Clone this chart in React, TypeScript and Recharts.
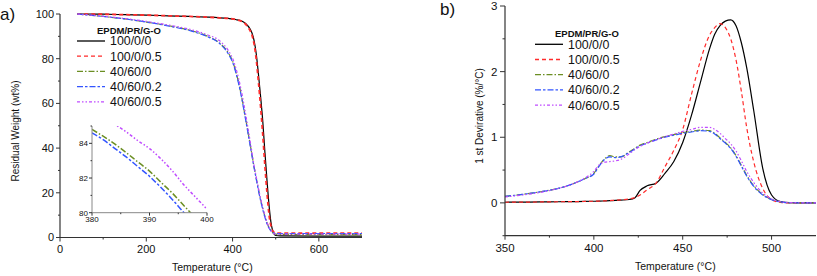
import React from 'react';
import { LineChart, Line, XAxis, YAxis } from 'recharts';

const FONT = '"Liberation Sans", Arial, Helvetica, sans-serif';
const AXIS_COLOR = '#333';

// series shared by both panels
const SERIES_NAMES = ['100/0/0', '100/0/0.5', '40/60/0', '40/60/0.2', '40/60/0.5'];
const SERIES_COLORS = ['#000000', '#ff2b2b', '#6b8e23', '#3355ff', '#c04cff'];
const SERIES_DASH = ['', '4 3', '6 2 1.5 2', '6 2 2.5 2', '3 2 1.5 2 1.5 2'];
const SERIES_KEYS = ['s0', 's1', 's2', 's3', 's4'];

// a) TGA, residual weight (wt%)
const TGA_TEMP = [40, 100, 150, 200, 250, 300, 340, 370, 390, 400, 410, 420, 430, 440, 445, 450, 455, 460, 465, 470, 475, 480, 485, 490, 495, 500, 510, 600, 700];
const TGA_100_0_0 = [100, 99.9, 99.7, 99.5, 99.2, 98.9, 98.6, 98.3, 98.0, 97.8, 97.4, 97.0, 95.8, 93.5, 91.5, 88, 82, 73, 63, 52, 38, 25, 13.5, 5.5, 2, 0.9, 0.7, 0.6, 0.6];
const TGA_100_0_05 = [100, 99.9, 99.7, 99.5, 99.2, 98.9, 98.6, 98.3, 98.0, 97.8, 97.4, 96.8, 95.5, 92.8, 90.5, 86.5, 79.5, 69.5, 58.5, 46, 32, 19.5, 9.5, 4.5, 2.5, 2.0, 2.0, 1.9, 1.9];
const TGA_40_60_0 = [100, 98.9, 97.8, 96.4, 94.8, 92.8, 90.2, 87.0, 82.6, 78.9, 72.5, 64, 53.5, 42.5, 37, 31.5, 26.5, 21.5, 17, 13, 9.5, 6.5, 4.3, 2.8, 1.8, 1.5, 1.4, 1.3, 1.3];
const TGA_40_60_02 = [100, 98.9, 97.8, 96.4, 94.7, 92.6, 90.0, 86.8, 82.2, 78.4, 72.0, 63.5, 53, 42, 36.5, 31, 26, 21, 16.5, 12.5, 9, 6, 4, 2.7, 2.0, 1.8, 1.8, 1.8, 1.8];
const TGA_40_60_05 = [100, 99.0, 98.0, 96.7, 95.1, 93.2, 90.8, 88.0, 83.7, 80.2, 74.2, 66, 55.5, 44, 38, 32, 27, 22, 17.5, 13.5, 9.8, 6.7, 4.4, 2.8, 1.8, 1.5, 1.5, 1.5, 1.5];
const TGA_X_TICKS = [0, 100, 200, 300, 400, 500, 600];
const TGA_X_LABELS = [0, 200, 400, 600];
const TGA_Y_TICKS = [0, 10, 20, 30, 40, 50, 60, 70, 80, 90, 100];
const TGA_Y_LABELS = [0, 20, 40, 60, 80, 100];

// inset of a), 380-400 °C
const INSET_TEMP = [380, 382, 384, 386, 388, 390, 392, 394, 396, 398, 400];
const INSET_40_60_0 = [84.8, 84.4, 83.95, 83.45, 82.92, 82.4, 81.75, 81.12, 80.4, 79.7, 79.0];
const INSET_40_60_02 = [84.6, 84.2, 83.7, 83.2, 82.65, 82.1, 81.45, 80.75, 80.0, 79.3, 78.5];
const INSET_40_60_05 = [86.2, 85.6, 85.1, 84.65, 84.15, 83.7, 83.1, 82.4, 81.6, 80.9, 80.2];
const INSET_X_TICKS = [380, 385, 390, 395, 400];
const INSET_X_LABELS = [380, 390, 400];
const INSET_Y_TICKS = [80, 81, 82, 83, 84, 85];
const INSET_Y_LABELS = [80, 82, 84];

// b) DTG, 1st derivative (%/°C)
const DTG_TEMP = [350, 360, 370, 380, 390, 395, 400, 403, 406, 409, 412, 415, 420, 423, 426, 430, 435, 440, 445, 450, 455, 460, 465, 468, 471, 474, 477, 480, 483, 486, 490, 495, 500, 505, 510, 525];
const DTG_100_0_0 = [0.010, 0.012, 0.014, 0.017, 0.020, 0.022, 0.025, 0.027, 0.030, 0.033, 0.037, 0.042, 0.052, 0.075, 0.19, 0.26, 0.30, 0.45, 0.63, 0.92, 1.34, 1.84, 2.34, 2.57, 2.70, 2.77, 2.79, 2.70, 2.44, 2.06, 1.40, 0.53, 0.12, 0.02, 0.005, 0];
const DTG_100_0_05 = [0.010, 0.012, 0.014, 0.017, 0.020, 0.022, 0.025, 0.028, 0.031, 0.035, 0.040, 0.046, 0.06, 0.08, 0.12, 0.2, 0.30, 0.55, 0.80, 1.12, 1.66, 2.17, 2.55, 2.67, 2.73, 2.67, 2.50, 2.18, 1.70, 1.15, 0.62, 0.22, 0.05, 0.008, 0, 0];
const DTG_40_60_0 = [0.10, 0.13, 0.17, 0.22, 0.31, 0.37, 0.45, 0.57, 0.67, 0.72, 0.70, 0.70, 0.78, 0.83, 0.88, 0.92, 0.97, 1.01, 1.04, 1.07, 1.09, 1.11, 1.10, 1.06, 0.99, 0.92, 0.84, 0.72, 0.57, 0.42, 0.26, 0.13, 0.05, 0.015, 0.003, 0];
const DTG_40_60_02 = [0.10, 0.13, 0.17, 0.22, 0.31, 0.37, 0.44, 0.56, 0.66, 0.70, 0.69, 0.70, 0.77, 0.82, 0.87, 0.91, 0.96, 1.00, 1.03, 1.06, 1.08, 1.10, 1.09, 1.05, 0.98, 0.91, 0.83, 0.71, 0.56, 0.41, 0.25, 0.12, 0.05, 0.015, 0.003, 0];
const DTG_40_60_05 = [0.09, 0.12, 0.16, 0.22, 0.31, 0.38, 0.48, 0.58, 0.62, 0.63, 0.64, 0.66, 0.75, 0.81, 0.86, 0.91, 0.96, 1.01, 1.05, 1.09, 1.12, 1.15, 1.15, 1.12, 1.06, 0.98, 0.90, 0.79, 0.64, 0.48, 0.31, 0.15, 0.06, 0.02, 0.004, 0];
const DTG_X_TICKS = [350, 375, 400, 425, 450, 475, 500];
const DTG_X_LABELS = [350, 400, 450, 500];
const DTG_Y_TICKS = [-0.5, 0, 0.5, 1, 1.5, 2, 2.5, 3];
const DTG_Y_LABELS = [0, 1, 2, 3];

function toRows(temps: number[], cols: number[][], keys: string[]) {
  return temps.map((t, i) => {
    const row: Record<string, number> = { t };
    cols.forEach((c, j) => (row[keys[j]] = c[i]));
    return row;
  });
}

const tgaRows = toRows(TGA_TEMP, [TGA_100_0_0, TGA_100_0_05, TGA_40_60_0, TGA_40_60_02, TGA_40_60_05], SERIES_KEYS);
const insetRows = toRows(INSET_TEMP, [INSET_40_60_0, INSET_40_60_02, INSET_40_60_05], ['s2', 's3', 's4']);
const dtgRows = toRows(DTG_TEMP, [DTG_100_0_0, DTG_100_0_05, DTG_40_60_0, DTG_40_60_02, DTG_40_60_05], SERIES_KEYS);

function xTick(labels: number[], fontSize: number, len: number, gap: number) {
  return (props: any) => {
    const { x, y, payload } = props;
    const major = labels.includes(payload.value);
    return (
      <g>
        <line x1={x} x2={x} y1={y} y2={y + (major ? len : len / 2)} stroke={AXIS_COLOR} strokeWidth={1} />
        {major && (
          <text x={x} y={y + gap} textAnchor="middle" fontSize={fontSize} fontFamily={FONT} fill="#111">
            {payload.value}
          </text>
        )}
      </g>
    );
  };
}

function yTick(labels: number[], fontSize: number, len: number, gap: number) {
  return (props: any) => {
    const { x, y, payload } = props;
    const major = labels.includes(payload.value);
    return (
      <g>
        <line x1={x} x2={x - (major ? len : len / 2)} y1={y} y2={y} stroke={AXIS_COLOR} strokeWidth={1} />
        {major && (
          <text x={x - gap} y={y} dy="0.35em" textAnchor="end" fontSize={fontSize} fontFamily={FONT} fill="#111">
            {payload.value}
          </text>
        )}
      </g>
    );
  };
}

const axisLine = { stroke: AXIS_COLOR, strokeWidth: 1.2 };

function FrameAxes({ xDomain, yDomain }: { xDomain: number[]; yDomain: number[] }) {
  return null;
}

function Legend({ x, y, lineX0, lineX1, textX }: { x: number; y: number; lineX0: number; lineX1: number; textX: number }) {
  return (
    <g fontFamily={FONT}>
      <text x={x} y={y} fontSize={9.5} fontWeight="bold" fill="#111">
        EPDM/PR/G-O
      </text>
      {SERIES_NAMES.map((name, i) => {
        const yy = y + 7.5 + i * 15.2;
        return (
          <g key={name}>
            <line x1={lineX0} x2={lineX1} y1={yy} y2={yy} stroke={SERIES_COLORS[i]} strokeWidth={1.3} strokeDasharray={SERIES_DASH[i]} />
            <text x={textX} y={yy} dy="0.36em" fontSize={12.4} fill="#111">
              {name}
            </text>
          </g>
        );
      })}
    </g>
  );
}

export default function App() {
  return (
    <div style={{ position: 'absolute', left: 0, top: 0, width: 817, height: 276, background: '#fff', overflow: 'hidden' }}>
      {/* a) TGA */}
      <div style={{ position: 'absolute', left: 0, top: 0 }}>
        <LineChart width={400} height={276} data={tgaRows} margin={{ top: 14, right: 38, bottom: 0, left: 0 }}>
          <XAxis dataKey="t" type="number" domain={[0, 700]} ticks={TGA_X_TICKS} interval={0} height={38.5} tickSize={0} tickMargin={0} tickLine={false} axisLine={axisLine} tick={xTick(TGA_X_LABELS, 11, 4, 15.5)} />
          <YAxis type="number" domain={[0, 100]} ticks={TGA_Y_TICKS} interval={0} width={60} tickSize={0} tickMargin={0} tickLine={false} axisLine={axisLine} tick={yTick(TGA_Y_LABELS, 11, 4, 6)} />
          <XAxis xAxisId="top" orientation="top" type="number" domain={[0, 700]} height={0} tick={false} tickLine={false} axisLine={axisLine} />
          <YAxis yAxisId="right" orientation="right" type="number" domain={[0, 100]} width={0} tick={false} tickLine={false} axisLine={axisLine} />
          {SERIES_KEYS.map((k, i) => (
            <Line key={k} dataKey={k} type="monotone" stroke={SERIES_COLORS[i]} strokeWidth={i === 1 ? 1.8 : 1.2} strokeDasharray={SERIES_DASH[i]} dot={false} activeDot={false} isAnimationActive={false} />
          ))}
        </LineChart>
      </div>

      {/* inset */}
      <div style={{ position: 'absolute', left: 70, top: 120 }}>
        <LineChart width={145} height={110} data={insetRows} margin={{ top: 6, right: 8, bottom: 0, left: 0 }}>
          <XAxis dataKey="t" type="number" domain={[380, 400]} allowDataOverflow ticks={INSET_X_TICKS} interval={0} height={17.3} tickSize={0} tickMargin={0} tickLine={false} axisLine={{ stroke: '#888', strokeWidth: 1 }} tick={xTick(INSET_X_LABELS, 8, 3, 9.5)} />
          <YAxis type="number" domain={[80, 85]} allowDataOverflow ticks={INSET_Y_TICKS} interval={0} width={22} tickSize={0} tickMargin={0} tickLine={false} axisLine={{ stroke: '#888', strokeWidth: 1 }} tick={yTick(INSET_Y_LABELS, 8, 3, 4)} />
          <XAxis xAxisId="top" orientation="top" type="number" domain={[380, 400]} height={0} tick={false} tickLine={false} axisLine={{ stroke: '#888', strokeWidth: 1 }} />
          <YAxis yAxisId="right" orientation="right" type="number" domain={[80, 85]} width={0} tick={false} tickLine={false} axisLine={{ stroke: '#888', strokeWidth: 1 }} />
          {['s2', 's3', 's4'].map((k, j) => (
            <Line key={k} dataKey={k} type="monotone" stroke={SERIES_COLORS[j + 2]} strokeWidth={1.5} strokeDasharray={SERIES_DASH[j + 2]} dot={false} activeDot={false} isAnimationActive={false} />
          ))}
        </LineChart>
      </div>

      {/* b) DTG */}
      <div style={{ position: 'absolute', left: 410, top: 0 }}>
        <LineChart width={407} height={276} data={dtgRows} margin={{ top: 6, right: 1, bottom: 0, left: 0 }}>
          <XAxis dataKey="t" type="number" domain={[350, 525]} ticks={DTG_X_TICKS} interval={0} height={40.3} tickSize={0} tickMargin={0} tickLine={false} axisLine={axisLine} tick={xTick(DTG_X_LABELS, 11.5, 4, 16)} />
          <YAxis type="number" domain={[-0.5, 3]} ticks={DTG_Y_TICKS} interval={0} width={95} tickSize={0} tickMargin={0} tickLine={false} axisLine={axisLine} tick={yTick(DTG_Y_LABELS, 11.5, 5, 7.5)} />
          <XAxis xAxisId="top" orientation="top" type="number" domain={[350, 525]} height={0} tick={false} tickLine={false} axisLine={axisLine} />
          <YAxis yAxisId="right" orientation="right" type="number" domain={[-0.5, 3]} width={0} tick={false} tickLine={false} axisLine={axisLine} />
          {SERIES_KEYS.map((k, i) => (
            <Line key={k} dataKey={k} type="monotone" stroke={SERIES_COLORS[i]} strokeWidth={1.2} strokeDasharray={SERIES_DASH[i]} dot={false} activeDot={false} isAnimationActive={false} />
          ))}
        </LineChart>
      </div>

      {/* titles, labels, legends */}
      <svg width={817} height={276} style={{ position: 'absolute', left: 0, top: 0, pointerEvents: 'none' }}>
        <g fontFamily={FONT} fill="#111">
          <text x={0} y={20} fontSize={17}>a)</text>
          <text x={440} y={15} fontSize={17}>b)</text>
          <text transform="translate(19,131) rotate(-90)" textAnchor="middle" fontSize={10}>Residual Weight (wt%)</text>
          <text x={172} y={270.5} fontSize={10.5}>Temperature (°C)</text>
          <text transform="translate(483,116) rotate(-90)" textAnchor="middle" fontSize={10}>1 st Devirative (%/°C)</text>
          <text x={635} y={270} fontSize={10.5}>Temperature (°C)</text>
        </g>
        <Legend x={97} y={33.5} lineX0={77} lineX1={105} textX={110} />
        <Legend x={555} y={36.8} lineX0={535} lineX1={563} textX={568} />
      </svg>
    </div>
  );
}
